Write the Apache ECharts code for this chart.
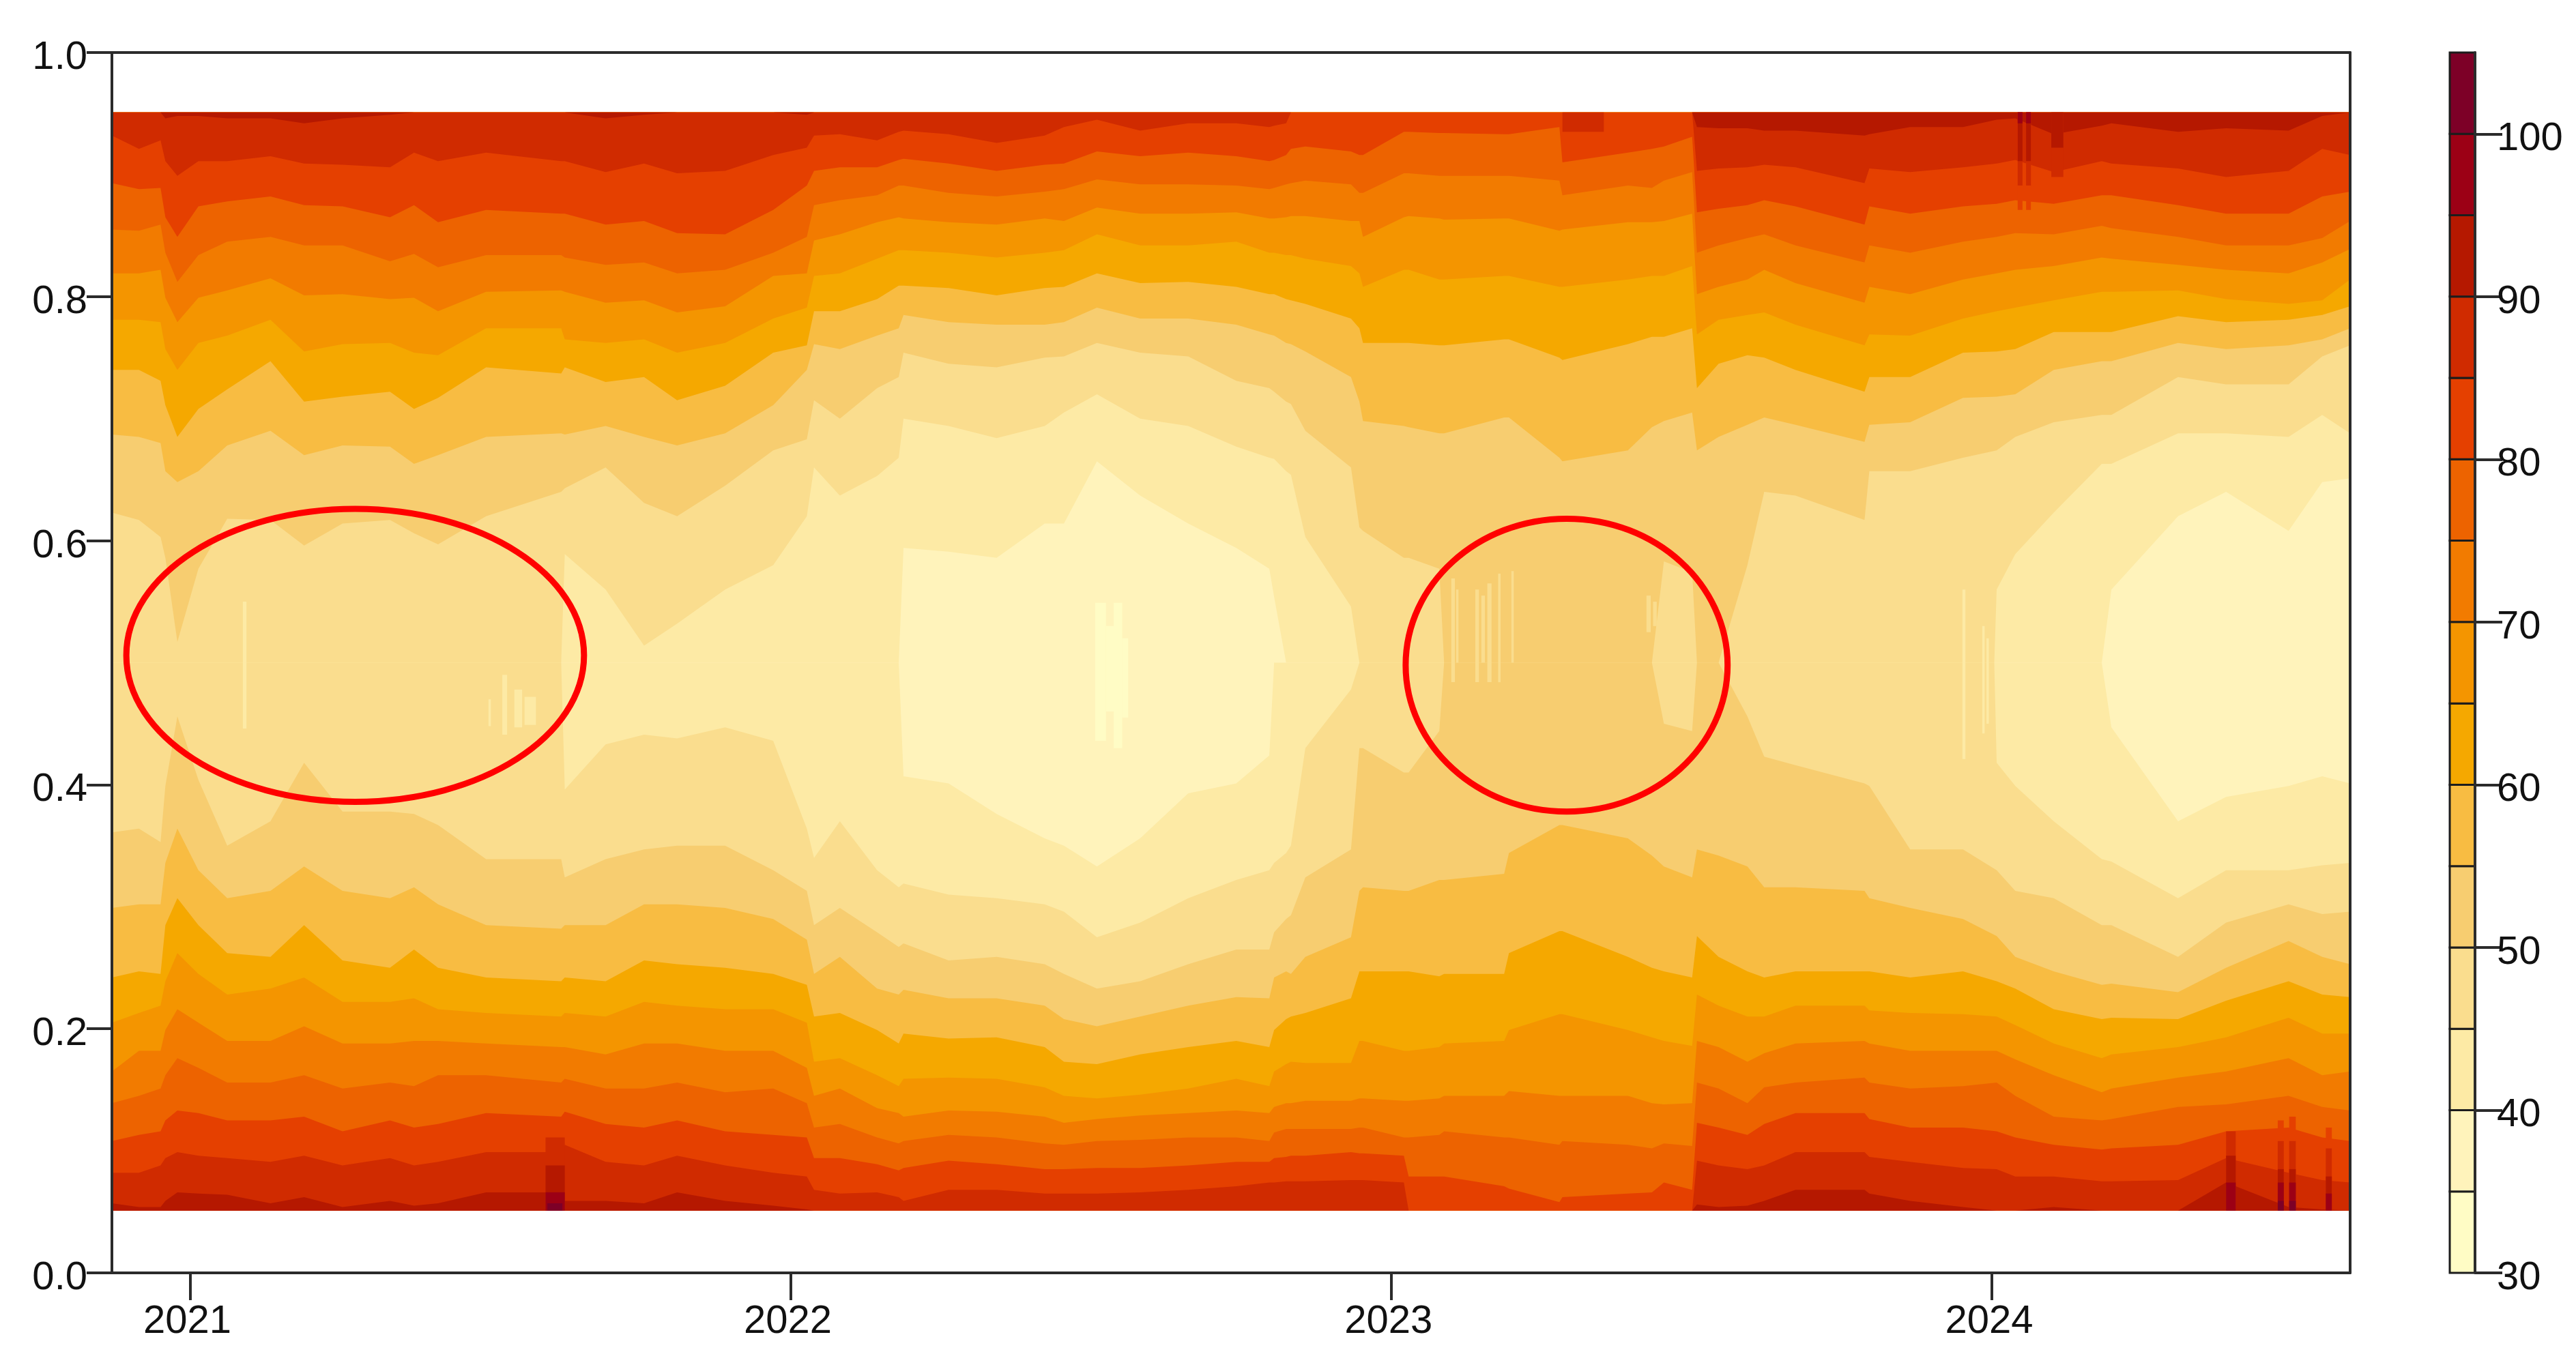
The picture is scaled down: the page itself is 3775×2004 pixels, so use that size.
<!DOCTYPE html>
<html><head><meta charset="utf-8">
<style>html,body{margin:0;padding:0;background:#fff}#c{width:3775px;height:2004px}</style>
<script src="https://cdn.jsdelivr.net/npm/echarts@6/dist/echarts.min.js"></script>
</head><body><div id="c"></div>
<script>
// time columns (years)
const timesA=[2020.870,2020.915,2020.951,2020.959,2020.979,2021.014,2021.062,2021.134,2021.190,2021.254,2021.333,2021.373,2021.413,2021.493,2021.618,2021.624,2021.692,2021.756,2021.811,2021.891,2021.971,2022.027,2022.039,2022.082];
const timesB=[2022.144,2022.180,2022.188,2022.263,2022.343,2022.423,2022.455,2022.510,2022.582,2022.662,2022.742,2022.797,2022.805,2022.825,2022.833,2022.857,2022.933,2022.947,2022.953,2023.021,2023.029,2023.080,2023.088,2023.188,2023.196,2023.280,2023.285];
const timesC=[2023.394,2023.434,2023.454,2023.501,2023.509,2023.545,2023.593,2023.621,2023.673,2023.788,2023.796,2023.864,2023.952,2024.008,2024.039,2024.103,2024.183,2024.199,2024.310,2024.390,2024.494,2024.550,2024.5965];
const times=[...timesA,...timesB,...timesC];
// contour positions on the y axis, in thousandths. up = upper edge of the level, lo = lower edge
const up90=[951,951,951,946,948,948,946,946,942,946,949,951,951,951,951,951,946,949,951,951,951,949,951,951, 951,951,951,951,951,951,951,951,951,951,951,951,951,951,951,951,951,951,951,951,951,951,951,951,951,951,951, 951,951,951,951,939,938,938,936,936,932,933,939,939,945,946,933,940,942,935,938,936,948,951];
const up85=[932,921,928,911,899,911,911,915,909,908,906,918,911,918,911,911,902,909,901,903,916,922,932,933, 928,935,936,933,926,932,939,945,936,942,942,939,940,942,951,951,951,951,951,951,951,951,951,951,951,951,951, 951,951,951,951,903,905,906,908,906,893,905,902,906,909,912,902,911,909,905,898,903,921,916];
const up80=[893,888,889,865,849,874,878,882,875,874,865,875,861,871,868,868,859,862,852,851,871,891,903,906, 906,912,913,909,903,908,909,919,915,918,915,911,912,916,921,923,919,916,916,935,935,934,934,933,933,939,910, 918,921,923,931,869,872,875,879,874,859,874,868,874,876,879,876,883,883,875,868,868,882,886];
const up75=[855,854,859,836,812,834,845,849,842,842,829,835,824,834,834,832,826,828,819,822,836,849,875,879, 883,891,891,885,882,886,888,896,892,892,891,888,889,892,893,895,892,885,885,901,901,899,899,899,899,895,883, 891,889,895,902,836,842,848,851,842,828,842,836,845,849,852,851,858,856,849,842,842,848,862];
const up70=[819,819,822,799,779,799,805,815,801,802,798,799,788,804,805,804,795,797,787,792,817,819,846,851, 861,865,864,861,859,864,862,873,868,868,869,864,864,865,866,866,862,862,849,865,866,864,863,864,864,854,855, 861,861,862,868,802,808,814,822,811,795,808,802,814,819,822,825,832,831,826,822,819,828,839];
const up65=[781,781,779,757,740,762,768,781,755,761,762,754,752,774,774,765,762,765,754,762,782,791,817,819, 831,838,838,836,832,836,838,851,842,842,845,836,836,834,834,831,825,819,808,822,822,814,814,817,817,808,808, 814,817,817,825,769,781,785,787,777,760,769,768,782,788,791,797,804,804,805,798,794,797,814];
const up60=[740,740,731,711,685,708,724,747,714,718,722,708,717,742,737,742,730,734,715,727,754,760,788,788, 798,809,809,807,801,807,808,819,811,812,808,802,802,798,797,794,782,774,762,762,762,760,760,765,765,750,748, 761,767,767,774,725,745,752,750,740,722,734,734,754,755,757,771,771,771,784,779,781,785,792];
const up55=[687,685,680,657,648,657,678,690,670,678,677,663,670,685,688,687,694,685,678,688,711,740,761,757, 768,774,785,779,777,777,779,791,782,782,777,769,768,762,761,755,734,714,698,694,693,688,688,701,701,668,665, 674,693,698,705,674,685,695,701,695,681,695,697,717,718,720,740,747,747,762,757,760,765,774];
const up50=[623,617,603,586,517,577,618,617,596,614,617,606,597,620,640,643,660,631,620,645,674,683,715,700, 725,734,754,745,742,750,751,762,754,751,731,725,722,714,712,690,660,611,608,586,586,577,500,500,500,500,500, 500,500,583,574,500,500,580,640,637,617,657,657,668,674,685,697,703,703,734,728,728,751,760];
const up45=[500,500,500,500,500,500,500,500,500,500,500,500,500,500,500,589,560,514,532,560,580,620,660,637, 653,668,700,694,684,694,705,720,700,694,677,668,667,657,654,603,546,500,500,500,500,500,500,500,500,500,500, 500,500,500,500,500,500,500,500,500,500,500,500,500,560,589,623,663,663,688,688,685,703,688];
const up40=[500,500,500,500,500,500,500,500,500,500,500,500,500,500,500,500,500,500,500,500,500,500,500,500, 500,500,594,591,586,614,614,665,637,614,594,577,554,500,500,500,500,500,500,500,500,500,500,500,500,500,500, 500,500,500,500,500,500,500,500,500,500,500,500,500,500,500,500,500,560,620,640,608,648,651];
const lo40=[500,500,500,500,500,500,500,500,500,500,500,500,500,500,500,500,500,500,500,500,500,500,500,500, 500,500,407,401,376,356,350,333,356,393,401,424,500,500,500,500,500,500,500,500,500,500,500,500,500,500,500, 500,500,500,500,500,500,500,500,500,500,500,500,500,500,500,500,500,447,370,390,399,407,401];
const lo45=[500,500,500,500,500,500,500,500,500,500,500,500,500,500,500,396,433,441,438,447,436,364,340,370, 330,316,319,310,307,302,296,275,287,307,322,330,336,344,350,430,478,500,500,500,500,500,500,500,500,500,500, 500,500,500,500,500,500,500,500,500,500,500,500,500,418,399,370,339,337,307,330,330,334,336];
const lo50=[361,364,353,399,456,404,350,370,418,378,378,376,367,339,339,324,339,347,350,350,330,313,285,299, 279,267,270,256,259,253,245,233,239,253,265,265,279,290,293,324,347,430,430,410,410,444,500,500,500,500,500, 500,500,450,444,500,500,456,423,416,401,399,347,347,330,313,307,285,285,259,287,302,294,296];
const lo55=[299,302,302,336,364,330,307,313,333,313,307,316,302,285,282,285,285,302,302,299,290,273,245,259, 233,228,232,225,225,219,208,202,210,219,226,225,242,247,245,259,275,313,316,313,313,322,322,327,344,367,367, 356,342,333,324,347,342,333,316,316,313,307,299,290,276,259,247,236,237,230,250,272,259,253];
const lo60=[242,247,245,285,307,285,262,259,285,256,250,265,250,242,239,242,239,256,253,250,245,236,210,213, 199,188,196,192,193,185,173,171,179,185,190,185,199,208,210,213,225,247,247,247,247,243,245,245,262,280,280, 259,250,247,242,276,259,247,242,247,247,247,242,247,239,233,216,208,209,208,223,239,228,226];
const lo65=[205,213,219,239,262,245,228,233,242,222,222,225,216,213,210,213,210,222,219,216,216,205,173,176, 162,153,159,160,159,152,145,143,146,151,159,153,165,171,173,172,172,190,190,182,182,185,188,190,199,212,212, 199,193,190,186,228,219,210,210,219,219,215,213,212,210,203,188,176,179,185,193,209,196,196];
const lo70=[165,182,182,199,216,205,190,190,202,188,188,190,190,188,185,185,179,188,188,182,182,168,145,151, 135,131,128,133,132,128,123,126,129,131,133,131,136,139,139,141,141,143,143,141,141,143,145,145,149,145,145, 145,139,138,139,190,185,173,180,188,190,188,182,182,182,175,162,148,151,160,165,176,162,165];
const lo75=[139,145,151,162,176,168,156,156,162,151,156,153,162,162,156,159,151,151,156,148,151,139,119,122, 111,106,108,113,111,106,105,108,109,111,111,108,115,118,118,118,118,119,119,111,111,113,116,111,111,105,108, 105,102,106,104,156,151,139,152,156,160,156,151,153,156,145,128,125,126,136,138,145,136,133];
const lo80=[108,113,116,125,133,131,125,125,128,116,125,119,122,131,128,132,122,119,125,116,113,111,94,94, 89,84,86,92,89,85,85,86,86,88,91,91,94,95,96,96,99,98,98,96,79,79,79,71,69,58,62, 65,66,74,68,123,119,113,122,131,131,126,119,119,116,111,105,101,102,105,116,119,111,108];
const lo85=[82,82,88,94,99,96,94,91,96,88,94,88,91,99,99,105,91,88,96,88,82,79,68,65, 66,62,59,68,68,65,65,65,66,68,71,74,74,75,75,75,76,76,76,74,51,51,51,51,51,51,51, 51,51,51,51,92,88,85,88,99,99,95,91,86,85,79,79,75,75,76,94,82,76,74];
const lo90=[57,54,54,59,66,65,64,57,62,54,59,55,57,66,66,59,59,57,66,59,55,52,51,51, 51,51,51,51,51,51,51,51,51,51,51,51,51,51,51,51,51,51,51,51,51,51,51,51,51,51,51, 51,51,51,51,56,54,55,59,68,68,65,59,54,51,51,54,51,51,51,74,54,52,51];
// extra points where a level's edge starts abruptly: [year, thousandths]
const edgeStart45=[[2024.004,500]];
// narrow features: [band, x0, x1, y0, y1]
const patches=[
[30,2022.507,2022.525,.436,.549],[30,2022.525,2022.538,.460,.530],[30,2022.538,2022.552,.430,.549],[30,2022.552,2022.562,.455,.520],
[40,2021.088,2021.094,.446,.550],[40,2021.540,2021.553,.447,.478],[40,2021.557,2021.576,.449,.472],[40,2021.520,2021.528,.441,.490],[40,2021.497,2021.501,.448,.470],
[40,2023.951,2023.956,.421,.560],[40,2023.984,2023.988,.442,.530],[40,2023.991,2023.995,.450,.520],
[45,2023.100,2023.106,.484,.569],[45,2023.108,2023.112,.500,.560],[45,2023.140,2023.146,.484,.560],[45,2023.150,2023.156,.500,.555],[45,2023.160,2023.167,.484,.565],[45,2023.178,2023.182,.484,.573],[45,2023.200,2023.204,.500,.575],[45,2023.425,2023.432,.525,.555],[45,2023.436,2023.442,.530,.550],
[85,2023.285,2023.354,.935,.951],
[85,2021.592,2021.624,.051,.111],[90,2021.592,2021.624,.051,.088],[95,2021.592,2021.624,.051,.066],[100,2021.595,2021.620,.051,.057],
[80,2024.476,2024.486,.051,.125],[85,2024.476,2024.486,.051,.108],[90,2024.476,2024.486,.051,.085],[95,2024.476,2024.486,.051,.074],[100,2024.476,2024.486,.051,.059],
[80,2024.495,2024.506,.051,.128],[85,2024.495,2024.506,.051,.108],[90,2024.495,2024.506,.051,.085],[95,2024.495,2024.506,.051,.074],[100,2024.495,2024.506,.051,.059],
[80,2024.556,2024.566,.051,.119],[85,2024.556,2024.566,.051,.102],[90,2024.556,2024.566,.051,.079],[95,2024.556,2024.566,.051,.065],
[85,2024.390,2024.406,.051,.116],[90,2024.390,2024.406,.051,.096],[95,2024.390,2024.406,.051,.074],
[80,2024.043,2024.051,.871,.951],[85,2024.043,2024.051,.891,.951],[90,2024.043,2024.051,.911,.951],[95,2024.043,2024.051,.942,.951],
[80,2024.057,2024.065,.871,.951],[85,2024.057,2024.065,.891,.951],[90,2024.057,2024.065,.911,.951],[95,2024.057,2024.065,.942,.951],
[85,2024.099,2024.119,.898,.951],[90,2024.099,2024.119,.922,.951]
];
// colour key
const bandLow=[30,35,40,45,50,55,60,65,70,75,80,85,90,95,100];
const bandColor=['#FFFCC5','#FFF3BB','#FDEAA5','#FADD8E','#F7CD70','#F8BC42','#F5A800','#F49500','#F27B00','#ED6300','#E54000','#D02B00','#B51800','#9C0015','#7D0027'];
const keyTicks=[30,40,50,60,70,80,90,100];
const yearTicks=[2021,2022,2023,2024];
// red circled regions: [centre x, centre y, radius x, radius y]
const ellipses=[[2021.275,.506,.381,.120],[2023.292,.498,.268,.120]];

const levels=[[40,up40,lo40,[]],[45,up45,lo45,edgeStart45],[50,up50,lo50,[]],[55,up55,lo55,[]],[60,up60,lo60,[]],[65,up65,lo65,[]],[70,up70,lo70,[]],[75,up75,lo75,[]],[80,up80,lo80,[]],[85,up85,lo85,[]],[90,up90,lo90,[]]];
const TOP=.951,BOT=.051,XMIN=2020.87,XMAX=2024.5965;
const colorOf=b=>bandColor[bandLow.indexOf(b)];
const font='"Liberation Sans",Arial,sans-serif';
const series=[];
series.push({type:'custom',z:2,silent:true,clip:true,data:[[XMIN,XMAX,BOT,TOP]],renderItem(p,api){
  const a=api.coord([api.value(0),api.value(3)]),b=api.coord([api.value(1),api.value(2)]);
  return {type:'rect',shape:{x:a[0],y:a[1],width:b[0]-a[0],height:b[1]-a[1]},style:{fill:colorOf(35)}};}});
levels.forEach((l,i)=>{
  [[l[1],TOP],[l[2],BOT]].forEach(e=>{
    const pts=times.map((t,k)=>[t,e[0][k]/1000]).concat(l[3].map(p=>[p[0],p[1]/1000])).sort((a,b)=>a[0]-b[0]);
    series.push({type:'line',z:3+i*0.01,silent:true,symbol:'none',showSymbol:false,animation:false,
      data:pts,lineStyle:{width:0},itemStyle:{color:colorOf(l[0])},
      areaStyle:{origin:e[1],color:colorOf(l[0]),opacity:1}});
  });
});
series.push({type:'custom',z:4,silent:true,clip:true,data:patches,renderItem(p,api){
  const a=api.coord([api.value(1),api.value(4)]),b=api.coord([api.value(2),api.value(3)]);
  return {type:'rect',shape:{x:a[0],y:a[1],width:b[0]-a[0],height:b[1]-a[1]},style:{fill:colorOf(api.value(0))}};}});
series.push({type:'custom',z:5,silent:true,clip:false,data:ellipses,renderItem(p,api){
  const c=api.coord([api.value(0),api.value(1)]),s=api.size([api.value(2),api.value(3)]);
  return {type:'ellipse',shape:{cx:c[0],cy:c[1],rx:s[0],ry:s[1]},style:{fill:'transparent',stroke:'#FF0000',lineWidth:9}};}});
series.push({type:'custom',xAxisIndex:2,yAxisIndex:2,z:3,silent:true,data:bandLow.map(b=>[b,b+5]),renderItem(p,api){
  const a=api.coord([0,api.value(1)]),b=api.coord([1,api.value(0)]);
  return {type:'rect',shape:{x:a[0],y:a[1],width:b[0]-a[0],height:b[1]-a[1]},style:{fill:colorOf(api.value(0)),stroke:'#1c1c1c',lineWidth:3}};}});

const line={lineStyle:{color:'#2b2b2b',width:4}};
const axisLine={show:true,onZero:false,...line};
const chart=echarts.init(document.getElementById('c'),null,{renderer:'canvas'});
chart.setOption({animation:false,backgroundColor:'#fff',
 grid:[{left:164,top:77,width:3280,height:1789,containLabel:false},{left:3590,top:77,width:37,height:1789}],
 xAxis:[
  {type:'value',gridIndex:0,min:XMIN,max:XMAX,z:10,splitLine:{show:false},axisLine,
   axisTick:{show:true,length:40,customValues:yearTicks,...line},
   axisLabel:{show:true,customValues:yearTicks,margin:43,fontSize:58,fontFamily:font,color:'#111',formatter:v=>String(v),padding:[0,8,0,0]}},
  {type:'value',gridIndex:0,position:'top',min:XMIN,max:XMAX,z:10,splitLine:{show:false},axisLine,axisTick:{show:false},axisLabel:{show:false}},
  {type:'value',gridIndex:1,min:0,max:1,show:false}
 ],
 yAxis:[
  {type:'value',gridIndex:0,min:0,max:1,interval:.2,z:10,splitLine:{show:false},axisLine,
   axisTick:{show:true,length:37,...line},
   axisLabel:{margin:36,fontSize:58,fontFamily:font,color:'#111',formatter:v=>v.toFixed(1),verticalAlign:'top',lineHeight:16}},
  {type:'value',gridIndex:0,position:'right',min:0,max:1,z:10,splitLine:{show:false},axisLine,axisTick:{show:false},axisLabel:{show:false}},
  {type:'value',gridIndex:1,position:'right',min:30,max:105,z:10,splitLine:{show:false},axisLine,
   axisTick:{show:true,length:40,customValues:keyTicks,...line},
   axisLabel:{customValues:keyTicks,margin:32,fontSize:58,fontFamily:font,color:'#111',verticalAlign:'top',lineHeight:16}}
 ],
 series});
</script></body></html>
